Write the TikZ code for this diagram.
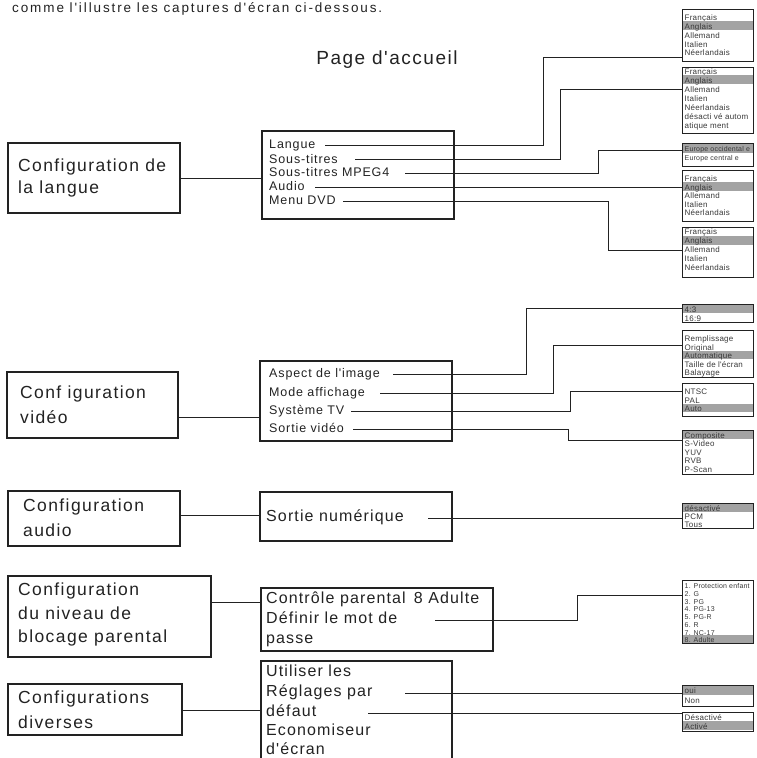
\documentclass[tikz,border=0pt]{standalone}
\usepackage{fontspec}
\setmainfont{Liberation Sans}
\newfontfamily\lsfont[LetterSpace=8]{Liberation Sans}
\newfontfamily\lsmid[LetterSpace=7]{Liberation Sans}
\newfontfamily\lstop[LetterSpace=14]{Liberation Sans}
\newfontfamily\smfont[LetterSpace=3]{Liberation Sans}
\definecolor{ink}{HTML}{222222}
\definecolor{hlgray}{HTML}{A3A3A3}
\tikzset{
  box/.style={draw=ink, line width=1.2pt, inner sep=0pt, outer sep=0pt, anchor=north west},
  rbox/.style={draw=ink, line width=1pt, inner sep=0pt, outer sep=0pt, anchor=north west, minimum width=71pt},
  conn/.style={draw=ink, line width=0.9pt},
  txt/.style={inner sep=0pt, anchor=west, text height=.72em, text depth=0pt, text=ink},
  big/.style={txt, font=\lsfont\fontsize{17.5}{17.5}\selectfont},
  mid/.style={txt, font=\lsmid\fontsize{16}{16}\selectfont},
  sml/.style={txt, font=\lsmid\fontsize{12.5}{12.5}\selectfont},
  rtxt/.style={txt, text=ink!90},
}
\newcommand\boxat[5]{\node[box, minimum width={#4-#2}, minimum height={#5-#3}] (#1) at (#2,#3) {};}
% #1 name, #2 top, #3 bottom, #4 first row centre, #5 row step, #6 highlighted row, #7 font size, #8 items
\newcommand\menubox[8]{%
  \foreach \t [count=\i from 0] in {#8} {
    \pgfmathsetmacro\yy{#4+\i*#5}
    \ifnum\i=#6\relax
      \fill[hlgray] (682,\yy-#5/2) rectangle (753,\yy+#5/2);
    \fi
    \node[rtxt, font=\smfont\fontsize{#7}{#7}\selectfont] (#1-\i) at (684.5,\yy) {\t};
  }
  \node[rbox, minimum height={#3-#2}] (#1) at (682,#2) {};
}
\begin{document}
\begin{tikzpicture}[x=1pt, y=-1pt]
\useasboundingbox (0,0) rectangle (757,758);

\node[txt, font=\lstop\fontsize{13.5}{13.5}\selectfont] (intro) at (12,9) {comme l'illustre les captures d'écran ci-dessous.};
\node[txt, anchor=center, font=\lsfont\fontsize{19}{19}\selectfont] (title) at (387,61) {Page d'accueil};

% ---- left boxes
\boxat{L1}{8}{143}{180}{213}
\node[big] (L1a) at (18,168) {Configuration de};
\node[big] (L1b) at (18,190) {la langue};
\boxat{L2}{7}{372}{178}{438}
\node[big] (L2a) at (20,395) {Conf iguration};
\node[big] (L2b) at (20,420) {vidéo};
\boxat{L3}{8}{491}{180}{546}
\node[big] (L3a) at (23,508) {Configuration};
\node[big] (L3b) at (23,533) {audio};
\boxat{L4}{8}{576}{211}{657}
\node[big] (L4a) at (18,592) {Configuration};
\node[big] (L4b) at (18,616) {du niveau de};
\node[big] (L4c) at (18,639) {blocage parental};
\boxat{L5}{8}{684}{182}{735}
\node[big] (L5a) at (18,700) {Configurations};
\node[big] (L5b) at (18,725) {diverses};

% ---- sub menus
\boxat{S1}{262}{131}{454}{219}
\node[sml] (lg) at (269,145) {Langue};
\node[sml] (st) at (269,159.5) {Sous-titres};
\node[sml] (mp) at (269,173) {Sous-titres MPEG4};
\node[sml] (au) at (269,187) {Audio};
\node[sml] (md) at (269,201) {Menu DVD};

\boxat{S2}{260}{361}{452}{441}
\node[sml] (ai) at (269,374) {Aspect de l'image};
\node[sml] (ma) at (269,393) {Mode affichage};
\node[sml] (tv) at (269,411) {Système TV};
\node[sml] (sv) at (269,429) {Sortie vidéo};

\boxat{S3}{260}{492}{452}{541}
\node[mid] (sn) at (266,518) {Sortie numérique};

\boxat{S4}{261}{588}{493}{651}
\node[mid] (cp) at (266,600) {Contrôle parental \,8 Adulte};
\node[mid] (dm) at (266,620) {Définir le mot de};
\node[mid] (ps) at (266,640) {passe};

\boxat{S5}{261}{661}{452}{780}
\node[mid] (ul) at (266,673) {Utiliser les};
\node[mid] (rp) at (266,693) {Réglages par};
\node[mid] (df) at (266,713) {défaut};
\node[mid] (ec) at (266,732) {Economiseur};
\node[mid] (de) at (266,751) {d'écran};

% ---- option lists
\menubox{b1}{9}{61}{17}{8.8}{1}{8}{Français,Anglais,Allemand,Italien,Néerlandais}
\menubox{b2}{67}{133}{71}{8.9}{1}{8}{Français,Anglais,Allemand,Italien,Néerlandais,désacti vé autom,atique ment}
\menubox{b3}{143}{166}{147.8}{9.4}{0}{7}{Europe occidental e,Europe central e}
\menubox{b4}{170}{221}{178}{8.5}{1}{8}{Français,Anglais,Allemand,Italien,Néerlandais}
\menubox{b5}{227}{277}{231}{9}{1}{8}{Français,Anglais,Allemand,Italien,Néerlandais}
\menubox{b6}{304}{322}{308.5}{9}{0}{8}{4:3,16:9}
\menubox{b7}{330}{377}{338}{8.5}{2}{8}{Remplissage,Original,Automatique,Taille de l'écran,Balayage}
\menubox{b8}{383}{416}{391}{8.5}{2}{8}{NTSC,PAL,Auto}
\menubox{b9}{430}{474}{434.5}{8.5}{0}{8}{Composite,S-Video,YUV,RVB,P-Scan}
\menubox{b10}{503}{528}{507.5}{8}{0}{8}{désactivé,PCM,Tous}
\menubox{b11}{580}{643}{585}{7.75}{7}{7}{1. Protection enfant,2. G,3. PG,4. PG-13,5. PG-R,6. R,7. NC-17,8. Adulte}
\menubox{b12}{685}{706}{690}{10}{0}{8}{oui,Non}
\menubox{b13}{712}{731}{716.5}{9}{1}{8}{Désactivé,Activé}

% ---- connectors left -> sub menus
\draw[conn] (L1.east) -- (S1.west |- L1.east);
\draw[conn] (L2.east |- 0,417) -- (S2.west |- 0,417);
\draw[conn] (L3.east |- 0,515) -- (S3.west |- 0,515);
\draw[conn] (L4.east |- 0,602) -- (S4.west |- 0,602);
\draw[conn] (L5.east |- 0,710) -- (S5.west |- 0,710);

% ---- connectors sub menus -> option lists
\draw[conn] (325,0 |- lg) -| (543,57) -- (b1.west |- 0,57);
\draw[conn] (355,0 |- st) -| (560,89) -- (b2.west |- 0,89);
\draw[conn] (405,0 |- mp) -| (598,150) -- (b3.west |- 0,150);
\draw[conn] (315,0 |- au) -- (b4.west |- au);
\draw[conn] (343,0 |- md) -| (608,250) -- (b5.west |- 0,250);

\draw[conn] (393,0 |- ai) -| (526,308) -- (b6.west |- 0,308);
\draw[conn] (380,0 |- ma) -| (553,345) -- (b7.west |- 0,345);
\draw[conn] (351,0 |- tv) -| (570,391) -- (b8.west |- 0,391);
\draw[conn] (353,0 |- sv) -| (568,440) -- (b9.west |- 0,440);

\draw[conn] (428,0 |- sn) -- (b10.west |- sn);
\draw[conn] (435,0 |- dm) -| (577,595) -- (b11.west |- 0,595);
\draw[conn] (405,0 |- rp) -- (b12.west |- rp);
\draw[conn] (368,0 |- df) -- (b13.west |- df);
\end{tikzpicture}
\end{document}
